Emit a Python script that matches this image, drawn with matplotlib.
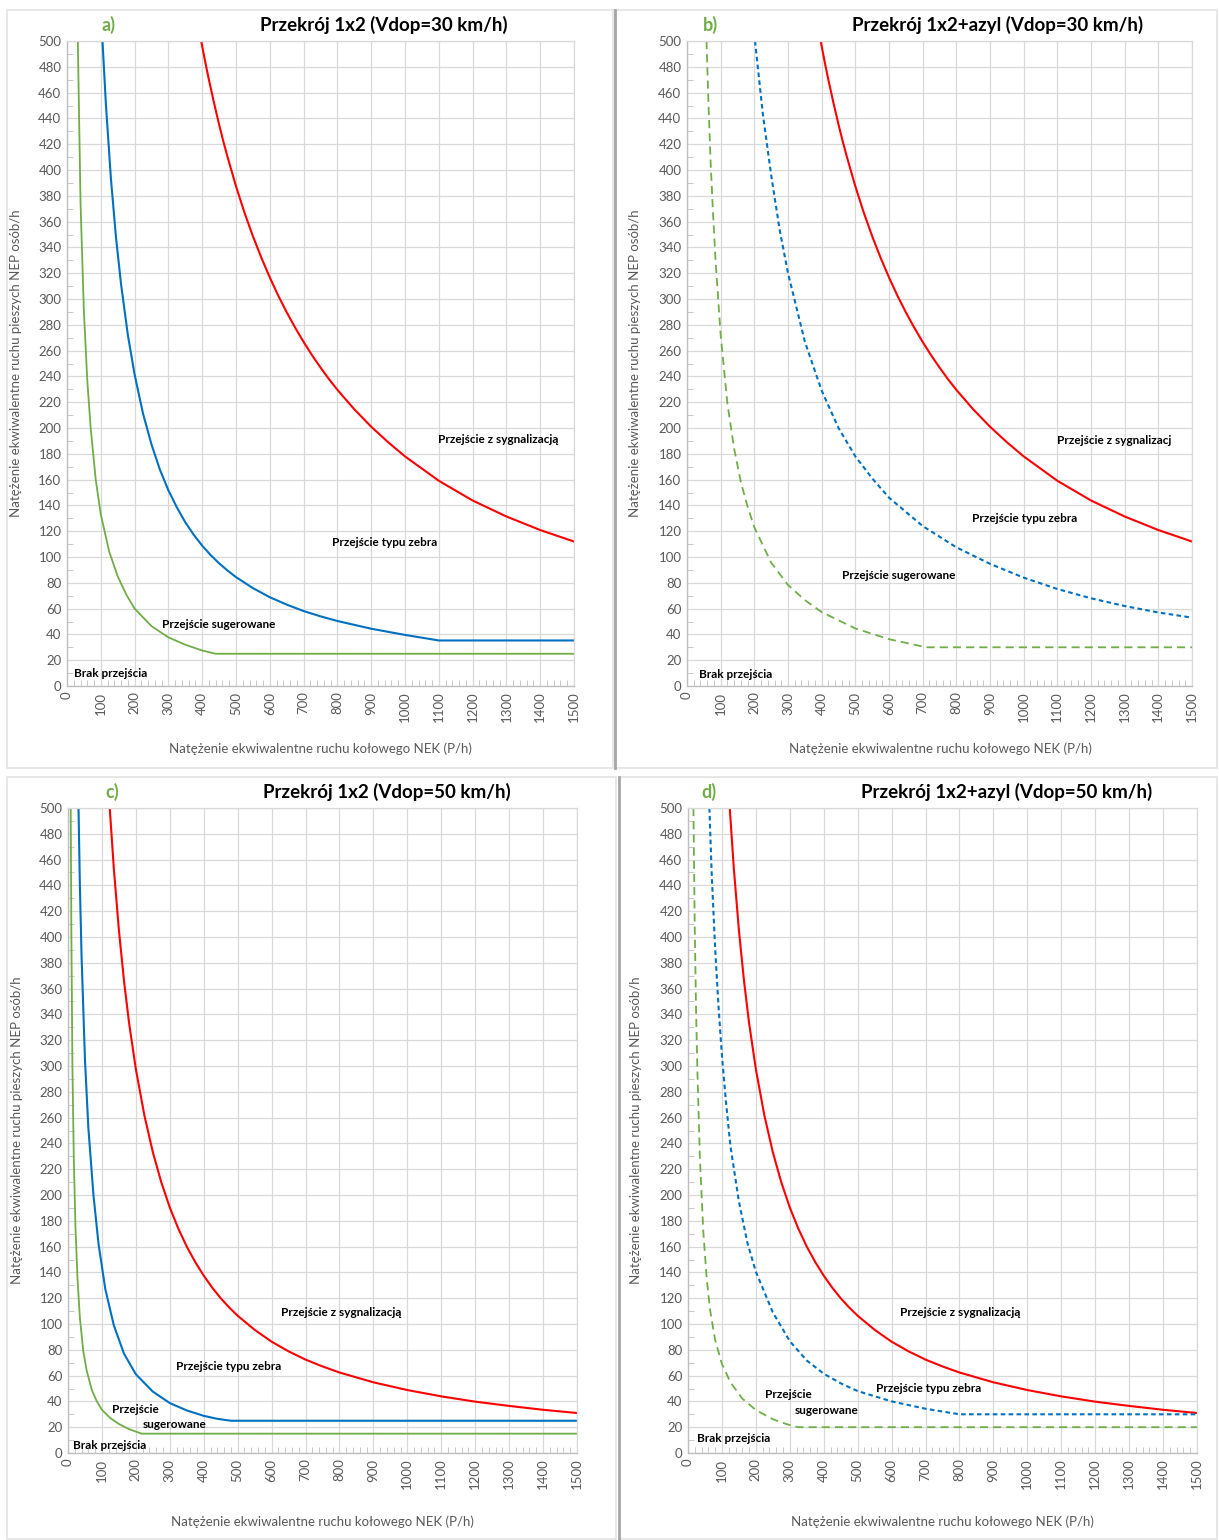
import matplotlib
matplotlib.use("Agg")
import matplotlib.pyplot as plt
from matplotlib.patches import Rectangle
from matplotlib.lines import Line2D
from matplotlib.ticker import MultipleLocator

plt.rcParams['font.family'] = ['Lato', 'DejaVu Sans']

# ---------------- data ----------------
# 30 km/h signal curve (same in a and b)
red30_x = [397, 410, 420, 435, 450, 462, 475, 500, 525, 550, 575, 600, 625, 650, 675, 700, 725, 750, 775, 800,
           850, 900, 950, 1000, 1100, 1200, 1300, 1400, 1500]
red30_y = [500, 482.4, 469.8, 452, 435.3, 422.7, 410.1, 387.4, 367, 348.7, 332, 316.7, 302.6, 289.7, 277.8, 266.7,
           256.4, 246.9, 237.9, 229.6, 214.5, 201, 189, 178, 159.1, 143.8, 131.4, 120.9, 112]

blue_a_x = [105, 115, 130, 145, 160, 180, 200, 225, 250, 275, 300, 325, 350, 375, 400, 425, 450, 475, 500, 550,
            600, 650, 700, 750, 800, 900, 1000, 1100, 1500]
blue_a_y = [500, 451.3, 393.1, 347.6, 311.3, 272.2, 241.5, 211.1, 187.2, 167.6, 151.7, 138.5, 126.9, 117.2, 108.8,
            101.5, 95.1, 89.5, 84.4, 75.9, 68.8, 63.1, 58.1, 54, 50.4, 44.4, 39.6, 35.3, 35.3]

green_a_x = [32, 40, 50, 60, 70, 85, 100, 125, 150, 175, 200, 250, 300, 350, 400, 440, 1500]
green_a_y = [500, 375, 290, 237, 200, 160, 133, 104, 85, 71, 60, 46.4, 37.7, 32, 27.5, 25, 25]

blue_b_x = [202, 225, 250, 275, 300, 350, 400, 450, 500, 550, 600, 700, 800, 900, 1000, 1100, 1200, 1300, 1400, 1500]
blue_b_y = [500, 444, 396, 354, 320, 267, 229, 200, 178, 161, 146, 124, 107.5, 94.7, 84, 75.2, 68, 62, 57, 53]

green_b_x = [58, 64, 70, 77, 85, 100, 120, 140, 160, 180, 200, 250, 300, 350, 400, 500, 600, 700, 715, 1500]
green_b_y = [500, 450, 407, 368, 329, 272, 219, 184, 158, 139, 123, 95.6, 78.3, 66.6, 57.3, 44.6, 36.3, 30.6, 30, 30]

# 50 km/h signal curve (same in c and d)
red50_x = [123, 135, 150, 165, 180, 200, 225, 250, 275, 300, 325, 350, 375, 400, 425, 450, 475, 500, 550, 600,
           650, 700, 750, 800, 900, 1000, 1100, 1200, 1300, 1400, 1500]
red50_y = [500, 453.3, 405.3, 366.1, 333.3, 297.5, 261.8, 233.2, 209.8, 190.3, 174, 160, 148, 137.5, 128.2, 120,
           112.8, 106.4, 95.5, 86.3, 78.8, 72.4, 67.1, 62.4, 54.8, 48.8, 43.9, 39.8, 36.5, 33.5, 31]

blue_c_x = [31, 35, 40, 50, 60, 75, 90, 110, 135, 165, 200, 250, 300, 350, 400, 440, 480, 1500]
blue_c_y = [500, 440, 385, 305, 252, 200, 162, 127, 99, 77, 61, 47.6, 38.7, 33, 28.8, 26.5, 25, 25]

green_c_x = [8, 10, 13, 17, 22, 28, 35, 45, 55, 70, 85, 100, 125, 150, 180, 217, 1500]
green_c_y = [500, 400, 300, 230, 175, 135, 105, 79, 64, 49, 40, 33.5, 27, 22.5, 18.5, 15, 15]

blue_d_x = [63, 70, 80, 90, 100, 112, 125, 150, 175, 200, 250, 300, 350, 400, 450, 500, 600, 700, 800, 1500]
blue_d_y = [500, 448, 391, 346, 308, 272, 238, 195, 163, 140.5, 109, 86.7, 71.7, 61.5, 54, 48, 40, 34.3, 30, 30]

green_d_x = [16, 20, 24, 28, 35, 45, 55, 65, 80, 100, 125, 160, 200, 250, 290, 325, 1500]
green_d_y = [500, 405, 340, 293, 229, 172, 135.5, 111, 87.5, 69, 54.8, 42.2, 33.3, 26.2, 22.4, 20, 20]

panel_letters = ["a)", "b)", "c)", "d)"]
panel_titles = ["Przekrój 1x2 (Vdop=30 km/h)", "Przekrój 1x2+azyl (Vdop=30 km/h)",
                "Przekrój 1x2 (Vdop=50 km/h)", "Przekrój 1x2+azyl (Vdop=50 km/h)"]
x_label = "Natężenie ekwiwalentne ruchu kołowego NEK (P/h)"
y_label = "Natężenie ekwiwalentne ruchu pieszych NEP osób/h"
x_ticks = list(range(0, 1501, 100))
y_ticks = list(range(0, 501, 20))

# ---------------- styling ----------------
W, H = 1219, 1540
fig = plt.figure(figsize=(W / 100, H / 100), dpi=100)

def fx(px):
    return px / W

def fy(py):
    return 1 - py / H

RED = '#FF0000'
BLUE = '#0070C0'
GREEN = '#70AD47'
GRAY = '#595959'
GRID = '#D9D9D9'

# panel frames
for (x0, y0, x1, y1) in [(7, 10, 613, 768), (615, 10, 1217, 768), (7, 777, 616, 1539), (619, 777, 1217, 1539)]:
    fig.add_artist(Rectangle((fx(x0), fy(y1)), fx(x1) - fx(x0), fy(y0) - fy(y1),
                             transform=fig.transFigure, fill=False, ec='#E3E3E3', lw=1.2))
fig.add_artist(Line2D([fx(615), fx(615)], [fy(10), fy(768)], transform=fig.transFigure, color='#A6A6A6', lw=2))
fig.add_artist(Line2D([fx(619), fx(619)], [fy(777), fy(1539)], transform=fig.transFigure, color='#A6A6A6', lw=2))

boxes = [(67, 41, 574, 686), (687, 41, 1192, 686), (68, 808, 577, 1453), (688, 808, 1197, 1453)]
axes = []
for (x0, y0, x1, y1) in boxes:
    ax = fig.add_axes([fx(x0), fy(y1), fx(x1) - fx(x0), fy(y0) - fy(y1)])
    ax.set_xlim(0, 1500)
    ax.set_ylim(0, 500)
    ax.set_xticks(x_ticks)
    ax.set_yticks(y_ticks)
    ax.set_xticklabels([str(t) for t in x_ticks], rotation=90)
    ax.xaxis.set_minor_locator(MultipleLocator(20))
    ax.yaxis.set_minor_locator(MultipleLocator(10))
    ax.grid(True, which='major', color=GRID, lw=0.9)
    ax.set_axisbelow(True)
    for s in ['top', 'right']:
        ax.spines[s].set_color(GRID)
        ax.spines[s].set_linewidth(0.9)
    for s in ['left', 'bottom']:
        ax.spines[s].set_color('#BFBFBF')
        ax.spines[s].set_linewidth(1.0)
    ax.tick_params(which='major', length=0, labelsize=9.5, labelcolor=GRAY, pad=4)
    ax.tick_params(which='minor', direction='in', length=4, color='#BFBFBF')
    ax.tick_params(axis='x', which='minor', top=False)
    ax.tick_params(axis='y', which='minor', right=False)
    axes.append(ax)

ax_a, ax_b, ax_c, ax_d = axes

ax_a.plot(red30_x, red30_y, color=RED, lw=1.5)
ax_a.plot(blue_a_x, blue_a_y, color=BLUE, lw=1.5)
ax_a.plot(green_a_x, green_a_y, color=GREEN, lw=1.3)

ax_b.plot(red30_x, red30_y, color=RED, lw=1.5)
ax_b.plot(blue_b_x, blue_b_y, color=BLUE, lw=1.5, dashes=(2.2, 1.6))
ax_b.plot(green_b_x, green_b_y, color=GREEN, lw=1.3, dashes=(4.5, 2.8))

ax_c.plot(red50_x, red50_y, color=RED, lw=1.5)
ax_c.plot(blue_c_x, blue_c_y, color=BLUE, lw=1.5)
ax_c.plot(green_c_x, green_c_y, color=GREEN, lw=1.3)

ax_d.plot(red50_x, red50_y, color=RED, lw=1.5)
ax_d.plot(blue_d_x, blue_d_y, color=BLUE, lw=1.5, dashes=(2.2, 1.6))
ax_d.plot(green_d_x, green_d_y, color=GREEN, lw=1.3, dashes=(4.5, 2.8))

lab = dict(fontsize=8.5, fontweight='bold', color='black', ha='center', va='center')
# panel a
ax_a.text(1275, 191, "Przejście z sygnalizacją", **lab)
ax_a.text(941, 111, "Przejście typu zebra", **lab)
ax_a.text(450, 48, "Przejście sugerowane", **lab)
ax_a.text(130, 10, "Brak przejścia", **lab)
# panel b
ax_b.text(1268, 190, "Przejście z sygnalizacj", **lab)
ax_b.text(1004, 130, "Przejście typu zebra", **lab)
ax_b.text(630, 86, "Przejście sugerowane", **lab)
ax_b.text(143, 9, "Brak przejścia", **lab)
# panel c
ax_c.text(805, 109, "Przejście z sygnalizacją", **lab)
ax_c.text(472, 67, "Przejście typu zebra", **lab)
ax_c.text(200, 34, "Przejście", **lab)
ax_c.text(315, 22, "sugerowane", **lab)
ax_c.text(124, 6, "Brak przejścia", **lab)
# panel d
ax_d.text(802, 109, "Przejście z sygnalizacją", **lab)
ax_d.text(710, 50, "Przejście typu zebra", **lab)
ax_d.text(295, 45, "Przejście", **lab)
ax_d.text(407, 33, "sugerowane", **lab)
ax_d.text(133, 11, "Brak przejścia", **lab)

# titles and panel letters
letter_pos = [(108, 25), (710, 25), (112, 792), (709, 792)]
title_pos = [(384, 25), (998, 25), (387, 792), (1007, 792)]
for (lx, ly), (tx, ty), let, tit in zip(letter_pos, title_pos, panel_letters, panel_titles):
    fig.text(fx(lx), fy(ly), let, color=GREEN, fontsize=13, fontweight='bold', ha='center', va='center')
    fig.text(fx(tx), fy(ty), tit, color='black', fontsize=13.5, fontweight='bold', ha='center', va='center')

# axis labels
xl_pos = [(320, 749), (940, 749), (322, 1522), (942, 1522)]
yl_pos = [(16, 363), (635, 363), (17, 1130), (636, 1130)]
for (x, y) in xl_pos:
    fig.text(fx(x), fy(y), x_label, color=GRAY, fontsize=9.5, ha='center', va='center')
for (x, y) in yl_pos:
    fig.text(fx(x), fy(y), y_label, color=GRAY, fontsize=9.5, ha='center', va='center', rotation=90)

fig.savefig("out.png", dpi=100, facecolor='white')
